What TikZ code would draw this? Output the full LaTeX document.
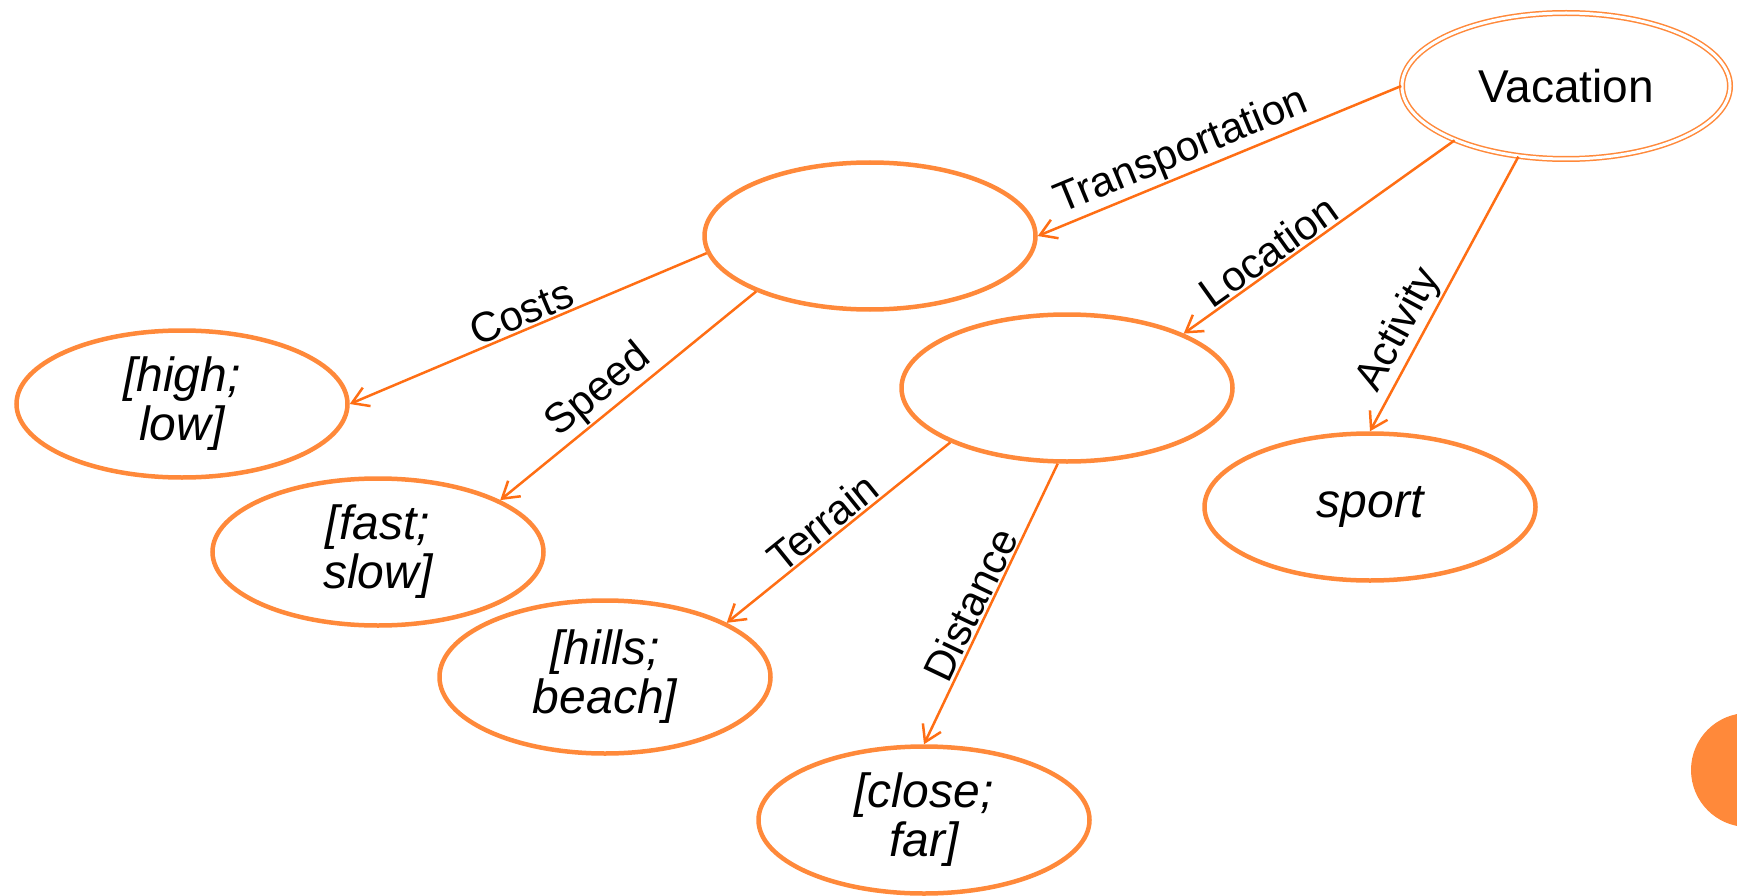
\documentclass[tikz,border=0pt]{standalone}
\usepackage{fontspec}
\setmainfont{Liberation Sans}
\usetikzlibrary{shapes.geometric,arrows.meta}
\definecolor{ring}{RGB}{255,137,58}
\definecolor{link}{RGB}{255,110,20}
\definecolor{dot}{RGB}{255,137,58}
\begin{document}
\begin{tikzpicture}[x=1pt,y=-1pt,
  oval/.style={ellipse, draw=ring, line width=4.5pt, minimum width=331pt,
    minimum height=147pt, inner sep=0pt, align=center,
    font=\fontsize{48}{49}\selectfont\itshape},
  root/.style={ellipse, draw=ring, double=white, double distance=3pt,
    line width=1.5pt, minimum width=328pt, minimum height=146pt,
    inner sep=0pt, font=\fontsize{46}{50}\selectfont},
  rel/.style={draw=link, line width=2.5pt,
    -{Straight Barb[length=16pt,width=20pt]}},
  lbl/.style={sloped, above, inner sep=1.5pt, font=\fontsize{42}{46}\selectfont}
]
\useasboundingbox (0,0) rectangle (1737,896);
\clip (0,0) rectangle (1737,896);

% corner decoration
\fill[dot] (1748,770) circle (57);

% concept nodes
\node[root] (vac)   at (1566,86)  {Vacation};
\node[oval] (trans) at (870,236)  {};
\node[oval] (loc)   at (1067,388) {};
\node[oval] (high)  at (182,404)  {[high;\\low]};
\node[oval] (fast)  at (378,552)  {[fast;\\slow]};
\node[oval, minimum height=153pt] (hills) at (605,677) {[hills;\\beach]};
\node[oval] (close) at (924,820)  {[close;\\far]};
\node[oval] (sport) at (1370,507) {sport};

% relations
\draw[rel] (vac.west) -- node[lbl,pos=0.58]{Transportation} (trans.east);
\draw[rel] (vac.206)  -- node[lbl,pos=0.65]{Location} (loc.25);
\draw[rel] (vac.236)  -- node[lbl,pos=0.67]{Activity} (sport.north);
\draw[rel] (trans.186) -- node[lbl,pos=0.5]{Costs} (high.east);
\draw[rel] (trans.206) -- node[lbl,pos=0.56]{Speed} (fast.23);
\draw[rel] (loc.205)  -- node[lbl,pos=0.52]{Terrain} (hills.24);
\draw[rel] (loc.263)  -- node[lbl,pos=0.53]{Distance} (close.north);
\end{tikzpicture}
\end{document}
